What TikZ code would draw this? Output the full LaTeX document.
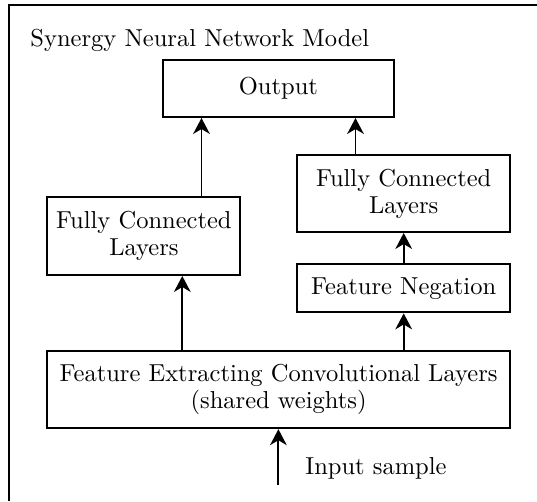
\documentclass[tikz,border=0pt]{standalone}
\usetikzlibrary{arrows.meta}
\begin{document}
\def\u{0.408pt}
\begin{tikzpicture}[x=\u, y=-\u,
  every node/.style={font=\fontsize{10}{11}\selectfont},
  box/.style={draw, line width=0.8pt, inner sep=0pt, align=center},
  arr/.style={-{Stealth[length=6.5pt,width=6.8pt,inset=2pt]}, line width=0.8pt},
  frame/.style={line width=0.8pt}]
\useasboundingbox (0,0) rectangle (537,501);

% outer frame (only top and left edges lie inside the page)
\draw[frame] (537,5) -- (9,5) -- (9,501);
\node[anchor=base west, inner sep=0pt] (title) at (30,46) {Synergy Neural Network Model};

% blocks
\node[box, minimum width=231.3*\u, minimum height=57*\u] (out) at (278.4,88.5) {Output};
\node[box, minimum width=193*\u, minimum height=78*\u] (fcla) at (143.9,236) {Fully Connected\\Layers};
\node[box, minimum width=212.6*\u, minimum height=77*\u] (fclb) at (403.7,193.5) {Fully Connected\\Layers};
\node[box, minimum width=212.6*\u, minimum height=48*\u] (neg) at (403.7,288.4) {Feature Negation};
\node[box, minimum width=462.7*\u, minimum height=77*\u] (fe) at (278.6,389.7) {Feature Extracting Convolutional Layers\\(shared weights)};

% columns used by the connectors
\coordinate (xa) at (182.3,0);
\coordinate (xb) at (201.5,0);
\coordinate (xc) at (355.5,0);
\coordinate (xd) at (403.7,0);
\coordinate (in) at (278.4,485);

\draw[arr] (fe.north -| xa) -- (fcla.south -| xa);
\draw[arr] (fcla.north -| xb) -- (out.south -| xb);
\draw[arr] (fe.north -| xd) -- (neg.south -| xd);
\draw[arr] (neg.north -| xd) -- (fclb.south -| xd);
\draw[arr] (fclb.north -| xc) -- (out.south -| xc);
\draw[arr] (in) -- (fe.south -| in);

\node[anchor=base west, inner sep=0pt] (inlbl) at (305,474) {Input sample};
\end{tikzpicture}
\end{document}
